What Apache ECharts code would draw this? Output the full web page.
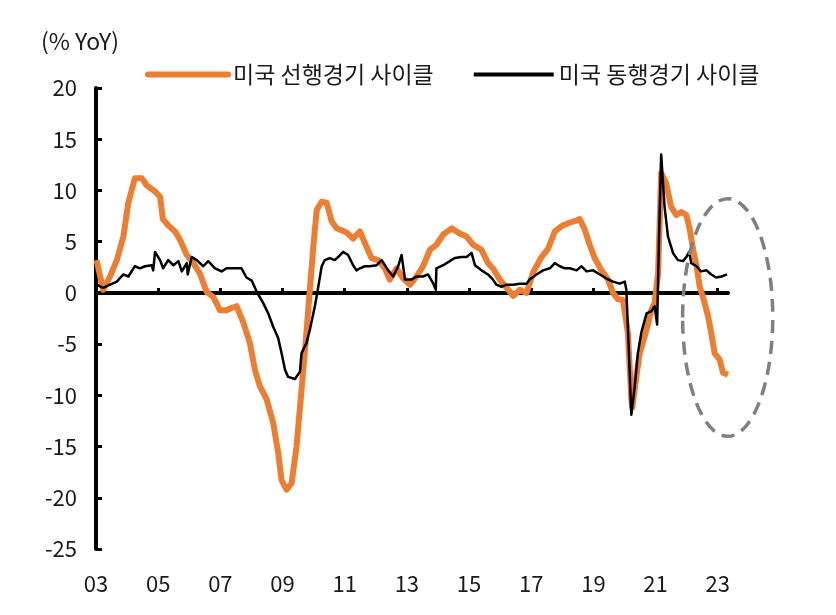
<!DOCTYPE html>
<html>
<head>
<meta charset="utf-8">
<script src="https://cdn.jsdelivr.net/npm/echarts@6/dist/echarts.min.js"></script>
<style>
html,body{margin:0;padding:0;background:#fff;}
#chart{width:836px;height:615px;}
</style>
</head>
<body>
<div id="chart"></div>
<script>
// ---- data (decimal years, % YoY) ----
const leadName = '미국 선행경기 사이클';
const coinName = '미국 동행경기 사이클';
const leadDates = [2003.02,2003.23,2003.45,2003.67,2003.88,2004.04,2004.25,2004.47,2004.63,2004.90,2005.06,2005.15,2005.32,2005.54,2005.70,2005.92,2006.13,2006.34,2006.56,2006.77,2006.99,2007.20,2007.34,2007.52,2007.74,2007.95,2008.11,2008.27,2008.49,2008.70,2008.86,2008.97,2009.13,2009.29,2009.45,2009.61,2009.75,2009.86,2009.99,2010.10,2010.26,2010.42,2010.58,2010.74,2011.06,2011.27,2011.49,2011.70,2011.86,2012.08,2012.29,2012.45,2012.67,2012.88,2013.10,2013.31,2013.52,2013.74,2013.95,2014.17,2014.44,2014.70,2014.92,2015.13,2015.40,2015.61,2015.77,2015.99,2016.21,2016.42,2016.63,2016.85,2017.06,2017.33,2017.54,2017.76,2017.97,2018.19,2018.40,2018.56,2018.72,2018.88,2019.04,2019.26,2019.47,2019.63,2019.78,2019.95,2020.11,2020.22,2020.25,2020.39,2020.49,2020.71,2020.86,2020.97,2021.08,2021.18,2021.34,2021.50,2021.67,2021.83,2021.99,2022.10,2022.21,2022.32,2022.42,2022.58,2022.69,2022.79,2022.90,2023.06,2023.17,2023.33];
const leadValues = [3.2,0.3,1.6,3.2,5.5,8.8,11.2,11.2,10.5,9.9,9.4,7.2,6.6,6.0,5.2,3.7,2.9,1.9,0.1,-0.4,-1.7,-1.7,-1.5,-1.3,-2.9,-4.9,-7.5,-9.1,-10.4,-12.7,-15.6,-18.3,-19.2,-18.6,-15.0,-9.5,-4.6,-0.4,4.5,8.1,8.9,8.8,7.0,6.3,5.9,5.3,6.0,4.5,3.4,3.2,2.4,1.3,2.4,1.4,0.8,1.6,2.6,4.2,4.7,5.7,6.3,5.8,5.5,4.7,4.2,2.9,2.4,1.3,0.5,-0.3,0.3,0.0,2.0,3.5,4.3,6.0,6.5,6.8,7.0,7.2,6.2,4.7,3.4,2.2,1.3,0.0,-0.6,-0.7,-3.9,-10.4,-11.2,-8.0,-5.9,-3.6,-1.7,-1.0,1.9,11.7,10.7,8.4,7.6,7.9,7.6,6.2,4.2,2.6,0.6,-1.0,-2.3,-3.9,-5.9,-6.5,-7.8,-8.0];
const coinDates = [2003.02,2003.23,2003.45,2003.67,2003.88,2004.04,2004.25,2004.41,2004.58,2004.79,2004.84,2004.90,2005.06,2005.16,2005.32,2005.49,2005.65,2005.76,2005.92,2005.95,2006.08,2006.24,2006.45,2006.61,2006.83,2007.04,2007.20,2007.68,2007.84,2008.01,2008.17,2008.38,2008.54,2008.70,2008.86,2008.97,2009.08,2009.18,2009.40,2009.56,2009.61,2009.77,2009.88,2010.04,2010.15,2010.26,2010.36,2010.52,2010.68,2010.79,2010.95,2011.11,2011.27,2011.38,2011.49,2011.65,2011.81,2012.03,2012.19,2012.40,2012.56,2012.72,2012.83,2012.94,2013.15,2013.31,2013.52,2013.68,2013.85,2013.93,2013.95,2014.17,2014.38,2014.54,2014.76,2014.92,2015.08,2015.19,2015.40,2015.61,2015.77,2015.88,2016.04,2016.21,2016.42,2016.63,2016.85,2016.95,2017.17,2017.38,2017.60,2017.76,2017.92,2018.08,2018.24,2018.46,2018.62,2018.78,2018.99,2019.21,2019.42,2019.63,2019.85,2020.01,2020.06,2020.14,2020.22,2020.33,2020.43,2020.54,2020.71,2020.86,2020.97,2021.05,2021.11,2021.18,2021.29,2021.40,2021.56,2021.72,2021.88,2021.99,2022.08,2022.15,2022.32,2022.46,2022.64,2022.79,2022.95,2023.12,2023.30];
const coinValues = [0.8,0.5,0.8,1.1,1.8,1.6,2.6,2.4,2.6,2.7,2.2,4.0,3.2,2.4,3.2,2.7,3.1,2.1,2.9,1.8,3.5,3.2,2.6,3.1,2.4,2.1,2.4,2.4,1.5,1.2,0.1,-1.0,-2.0,-3.3,-4.4,-5.9,-7.5,-8.2,-8.4,-7.7,-5.9,-4.9,-3.6,-1.3,0.6,2.6,3.2,3.4,3.2,3.5,4.0,3.7,2.7,2.2,2.4,2.6,2.6,2.7,3.2,2.2,1.6,2.6,3.7,1.3,1.3,1.6,1.6,1.8,0.9,0.3,2.4,2.7,3.1,3.4,3.5,3.5,3.9,2.7,2.2,1.8,1.3,0.8,0.6,0.8,0.8,0.9,0.9,1.3,1.8,2.2,2.4,2.9,2.6,2.4,2.4,2.2,2.6,2.1,2.2,1.8,1.4,1.1,0.9,1.1,0.3,-5.6,-11.9,-9.1,-5.9,-3.9,-2.0,-1.8,-1.3,-3.1,5.2,13.5,8.4,5.5,3.9,3.2,3.1,3.5,4.0,2.9,2.6,2.1,2.2,1.8,1.5,1.6,1.8];
const xTickYears = [2003,2005,2007,2009,2011,2013,2015,2017,2019,2021,2023];
const yMin = -25, yMax = 20, yStep = 5;
const xMin = 2003, xMax = 2023.33;
const unitLabel = '(% YoY)';
// annotation ellipse (data units): centre, half-width (years), half-height (%)
const ellipseCenter = [2023.32, -2.4];
const ellipseHalf = [1.45, 11.6];

const numFont = '"Noto Sans CJK KR","Noto Sans",sans-serif';
const krFont = '"Noto Sans CJK KR","Noto Sans",sans-serif';
const txtColor = '#1a1a1a';

const pair = (xs, ys) => xs.map((x, i) => [x, ys[i]]);

const chart = echarts.init(document.getElementById('chart'), null, {renderer: 'canvas'});
const option = {
  animation: false,
  backgroundColor: '#fff',
  title: {
    text: unitLabel, left: 36, top: 25,
    textStyle: {fontFamily: krFont, fontSize: 23, fontWeight: 'normal', color: txtColor}
  },
  legend: {
    left: 140, top: 58, itemWidth: 80, itemHeight: 12, itemGap: 38,
    textStyle: {fontFamily: krFont, fontSize: 23, color: txtColor},
    itemStyle: {opacity: 0},
    data: [
      {name: leadName, itemStyle: {opacity: 0}, lineStyle: {width: 6, color: '#ED7D31', cap: 'round'}},
      {name: coinName, itemStyle: {opacity: 0}, lineStyle: {width: 4, color: '#000000'}}
    ]
  },
  grid: {left: 96, right: 108, top: 88, bottom: 66, containLabel: false},
  xAxis: [
    {
      type: 'value', min: xMin, max: xMax, position: 'bottom',
      axisLine: {onZero: true, lineStyle: {color: '#000', width: 4}},
      axisTick: {show: true, inside: true, length: 5, lineStyle: {color: '#000', width: 3}, customValues: xTickYears},
      axisLabel: {show: false},
      splitLine: {show: false}
    },
    {
      type: 'value', min: xMin, max: xMax, position: 'bottom',
      axisLine: {show: false, onZero: false},
      axisTick: {show: false},
      splitLine: {show: false},
      axisLabel: {
        show: true, margin: 24, customValues: xTickYears,
        fontFamily: numFont, fontSize: 22, color: txtColor,
        formatter: v => String(Math.round(v) % 100).padStart(2, '0')
      }
    }
  ],
  yAxis: {
    type: 'value', min: yMin, max: yMax, interval: yStep,
    axisLine: {show: true, onZero: false, lineStyle: {color: '#000', width: 4}},
    axisTick: {show: true, inside: true, length: 6, lineStyle: {color: '#000', width: 3}},
    axisLabel: {margin: 19, fontFamily: numFont, fontSize: 22, color: txtColor},
    splitLine: {show: false}
  },
  series: [
    {
      name: leadName, type: 'line', xAxisIndex: 0, yAxisIndex: 0,
      data: pair(leadDates, leadValues), symbol: 'none', smooth: false,
      lineStyle: {color: '#ED7D31', width: 6, join: 'round'}, itemStyle: {color: '#ED7D31'}, z: 2
    },
    {
      name: coinName, type: 'line', xAxisIndex: 0, yAxisIndex: 0,
      data: pair(coinDates, coinValues), symbol: 'none', smooth: false,
      lineStyle: {color: '#000000', width: 2.5, join: 'round'}, itemStyle: {color: '#000'}, z: 3
    }
  ]
};
chart.setOption(option);

const c = chart.convertToPixel({gridIndex: 0}, ellipseCenter);
const e1 = chart.convertToPixel({gridIndex: 0}, [ellipseCenter[0] + ellipseHalf[0], ellipseCenter[1] + ellipseHalf[1]]);
chart.setOption({
  graphic: [{
    type: 'ellipse', z: 10,
    shape: {cx: c[0], cy: c[1], rx: Math.abs(e1[0] - c[0]), ry: Math.abs(e1[1] - c[1])},
    style: {fill: null, stroke: '#808080', lineWidth: 3.5, lineDash: [13, 8]}
  }]
});
</script>
</body>
</html>
